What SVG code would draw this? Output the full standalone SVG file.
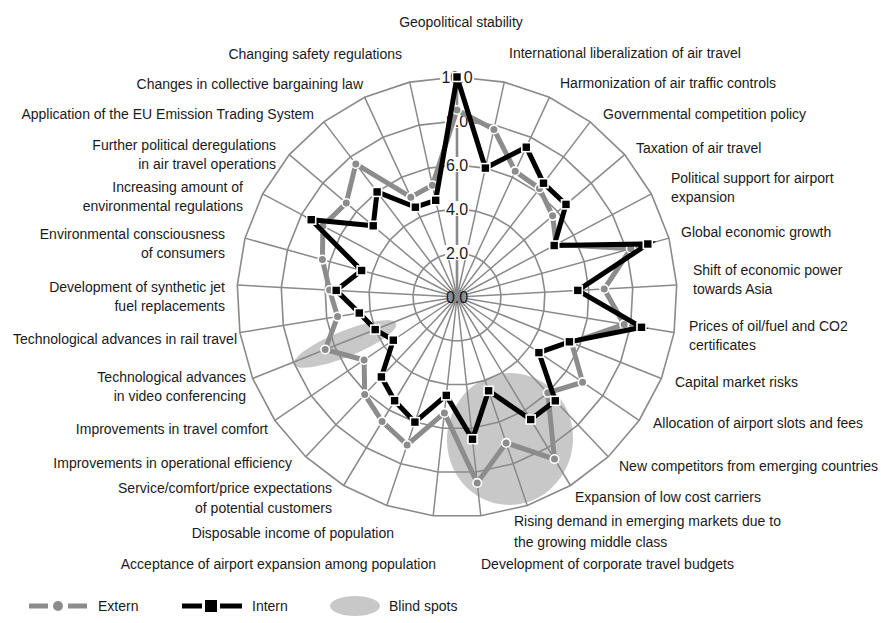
<svg xmlns="http://www.w3.org/2000/svg" width="881" height="623" viewBox="0 0 881 623">
  <style>
    .lbl { font-family: "Liberation Sans", Arial, sans-serif; font-size: 14px; fill: #1a1a1a; }
    .end { text-anchor: end; }
    .mid { text-anchor: middle; }
    .tick { font-family: "Liberation Sans", Arial, sans-serif; font-size: 16px; fill: #1a1a1a; text-anchor: middle; }
    .ring { fill: none; stroke: #8a8a8a; stroke-width: 1.6; stroke-linejoin: miter; }
    .spoke { fill: none; stroke: #8a8a8a; stroke-width: 1.5; }
    .blind { fill: #c8c8c8; }
    .ext { fill: none; stroke: #8c8c8c; stroke-width: 5; stroke-linejoin: miter; }
    .int { fill: none; stroke: #000; stroke-width: 5; stroke-linejoin: miter; }
    .extm { fill: #8c8c8c; stroke: #fff; stroke-width: 1.6; }
    .intm { fill: #000; stroke: #fff; stroke-width: 1.6; }
    .tickbg { fill: #fff; }
  </style>
  <defs>
    <circle id="cm" r="4.3" class="extm"/>
    <rect id="sm" x="-4.5" y="-4.5" width="9" height="9" class="intm"/>
  </defs>

  <!-- blind spot areas sit under the grid -->
  <g id="blind-spots">
    <ellipse class="blind" cx="345" cy="344" rx="55" ry="13" transform="rotate(-22 345 344)"/>
    <ellipse class="blind" cx="510" cy="439" rx="63" ry="66" transform="rotate(8 510 439)"/>
  </g>

  <!-- radar grid: 29 spokes, rings at 2, 4, 6, 8, 10 -->
  <g id="grid" transform="translate(457 297)">
    <path class="spoke" d="M0 0L47.29 -214.86M0 0L92.37 -199.67M0 0L133.14 -175.14M0 0L167.68 -142.43M0 0L194.37 -103.05M0 0L211.98 -58.85M0 0L219.68 -11.91M0 0L217.10 35.59M0 0L204.38 81.43M0 0L182.10 123.46M0 0L151.29 159.72M0 0L113.42 188.51M0 0L70.25 208.48M0 0L23.79 218.71M0 0L-23.79 218.71M0 0L-70.25 208.48M0 0L-113.42 188.51M0 0L-151.29 159.72M0 0L-182.10 123.46M0 0L-204.38 81.43M0 0L-217.10 35.59M0 0L-219.68 -11.91M0 0L-211.98 -58.85M0 0L-194.37 -103.05M0 0L-167.68 -142.43M0 0L-133.14 -175.14M0 0L-92.37 -199.67M0 0L-47.29 -214.86"/>
    <polygon class="ring" points="0,-220 47.29,-214.86 92.37,-199.67 133.14,-175.14 167.68,-142.43 194.37,-103.05 211.98,-58.85 219.68,-11.91 217.10,35.59 204.38,81.43 182.10,123.46 151.29,159.72 113.42,188.51 70.25,208.48 23.79,218.71 -23.79,218.71 -70.25,208.48 -113.42,188.51 -151.29,159.72 -182.10,123.46 -204.38,81.43 -217.10,35.59 -219.68,-11.91 -211.98,-58.85 -194.37,-103.05 -167.68,-142.43 -133.14,-175.14 -92.37,-199.67 -47.29,-214.86"/>
    <polygon class="ring" points="0,-176 37.8,-171.9 73.9,-159.7 106.5,-140.1 134.1,-113.9 155.5,-82.4 169.6,-47.1 175.7,-9.5 173.7,28.5 163.5,65.1 145.7,98.8 121.0,127.8 90.7,150.8 56.2,166.8 19.0,175.0 -19.0,175.0 -56.2,166.8 -90.7,150.8 -121.0,127.8 -145.7,98.8 -163.5,65.1 -173.7,28.5 -175.7,-9.5 -169.6,-47.1 -155.5,-82.4 -134.1,-113.9 -106.5,-140.1 -73.9,-159.7 -37.8,-171.9"/>
    <polygon class="ring" points="0,-132 28.4,-128.9 55.4,-119.8 79.9,-105.1 100.6,-85.5 116.6,-61.8 127.2,-35.3 131.8,-7.1 130.3,21.4 122.6,48.9 109.3,74.1 90.8,95.8 68.1,113.1 42.2,125.1 14.3,131.2 -14.3,131.2 -42.2,125.1 -68.1,113.1 -90.8,95.8 -109.3,74.1 -122.6,48.9 -130.3,21.4 -131.8,-7.1 -127.2,-35.3 -116.6,-61.8 -100.6,-85.5 -79.9,-105.1 -55.4,-119.8 -28.4,-128.9"/>
    <polygon class="ring" points="0,-88 18.9,-85.9 36.9,-79.9 53.3,-70.1 67.1,-57.0 77.7,-41.2 84.8,-23.5 87.9,-4.8 86.8,14.2 81.8,32.6 72.8,49.4 60.5,63.9 45.4,75.4 28.1,83.4 9.5,87.5 -9.5,87.5 -28.1,83.4 -45.4,75.4 -60.5,63.9 -72.8,49.4 -81.8,32.6 -86.8,14.2 -87.9,-4.8 -84.8,-23.5 -77.7,-41.2 -67.1,-57.0 -53.3,-70.1 -36.9,-79.9 -18.9,-85.9"/>
    <polygon class="ring" points="0,-44 9.5,-43.0 18.5,-39.9 26.6,-35.0 33.5,-28.5 38.9,-20.6 42.4,-11.8 43.9,-2.4 43.4,7.1 40.9,16.3 36.4,24.7 30.3,31.9 22.7,37.7 14.1,41.7 4.8,43.7 -4.8,43.7 -14.1,41.7 -22.7,37.7 -30.3,31.9 -36.4,24.7 -40.9,16.3 -43.4,7.1 -43.9,-2.4 -42.4,-11.8 -38.9,-20.6 -33.5,-28.5 -26.6,-35.0 -18.5,-39.9 -9.5,-43.0"/>
    <!-- value axis -->
    <line x1="0" y1="0" x2="0" y2="-220" stroke="#8a8a8a" stroke-width="2.6"/>
  </g>

  <!-- value axis labels -->
  <g id="axis-values">
    <rect class="tickbg" x="445" y="245" width="24" height="15"/>
    <rect class="tickbg" x="445" y="201" width="24" height="15"/>
    <rect class="tickbg" x="445" y="157" width="24" height="15"/>
    <rect class="tickbg" x="445" y="113" width="24" height="15"/>
    <rect class="tickbg" x="440" y="69" width="34" height="15"/>
    <text class="tick" x="457" y="303">0.0</text>
    <text class="tick" x="457" y="259">2.0</text>
    <text class="tick" x="457" y="215">4.0</text>
    <text class="tick" x="457" y="171">6.0</text>
    <text class="tick" x="457" y="127">8.0</text>
    <text class="tick" x="457" y="83">10.0</text>
  </g>

  <!-- data series -->
  <g id="series" transform="translate(457 297)">
    <g id="extern">
      <polygon class="ext" points="0,-187 36.9,-167.6 58.2,-125.8 82.5,-108.6 95.6,-81.2 99.1,-52.6 173.8,-48.3 147.2,-8.0 167.2,27.4 114.5,45.6 125.6,85.2 90.8,95.8 97.5,162.1 49.2,145.9 20.2,185.9 -12.6,115.9 -49.9,148.0 -74.9,124.4 -92.3,97.4 -92.9,63.0 -131.8,52.5 -119.4,19.6 -127.4,-6.9 -134.6,-37.4 -134.1,-71.1 -110.7,-94.0 -101.2,-133.1 -46.2,-99.8 -24.6,-111.7"/>
      <use href="#cm" x="0" y="-187"/><use href="#cm" x="36.9" y="-167.6"/><use href="#cm" x="58.2" y="-125.8"/><use href="#cm" x="82.5" y="-108.6"/><use href="#cm" x="95.6" y="-81.2"/><use href="#cm" x="99.1" y="-52.6"/><use href="#cm" x="173.8" y="-48.3"/><use href="#cm" x="147.2" y="-8.0"/><use href="#cm" x="167.2" y="27.4"/><use href="#cm" x="114.5" y="45.6"/><use href="#cm" x="125.6" y="85.2"/><use href="#cm" x="90.8" y="95.8"/><use href="#cm" x="97.5" y="162.1"/><use href="#cm" x="49.2" y="145.9"/><use href="#cm" x="20.2" y="185.9"/><use href="#cm" x="-12.6" y="115.9"/><use href="#cm" x="-49.9" y="148.0"/><use href="#cm" x="-74.9" y="124.4"/><use href="#cm" x="-92.3" y="97.4"/><use href="#cm" x="-92.9" y="63.0"/><use href="#cm" x="-131.8" y="52.5"/><use href="#cm" x="-119.4" y="19.6"/><use href="#cm" x="-127.4" y="-6.9"/><use href="#cm" x="-134.6" y="-37.4"/><use href="#cm" x="-134.1" y="-71.1"/><use href="#cm" x="-110.7" y="-94.0"/><use href="#cm" x="-101.2" y="-133.1"/><use href="#cm" x="-46.2" y="-99.8"/><use href="#cm" x="-24.6" y="-111.7"/>
    </g>
    <g id="intern">
      <polygon class="int" points="0,-220 28.4,-128.9 69.3,-149.8 86.5,-113.8 109.0,-92.6 97.2,-51.5 190.8,-53.0 120.8,-6.6 184.5,30.3 112.4,44.8 81.9,55.6 98.3,103.8 73.7,122.5 31.6,93.8 15.5,142.2 -10.7,98.4 -42.1,125.1 -62.4,103.7 -75.6,79.9 -63.7,43.2 -81.8,32.6 -97.7,16.0 -120.8,-6.6 -95.4,-26.5 -145.8,-77.3 -83.8,-71.2 -79.9,-105.1 -41.6,-89.8 -21.3,-96.7"/>
      <use href="#sm" x="0" y="-220"/><use href="#sm" x="28.4" y="-128.9"/><use href="#sm" x="69.3" y="-149.8"/><use href="#sm" x="86.5" y="-113.8"/><use href="#sm" x="109.0" y="-92.6"/><use href="#sm" x="97.2" y="-51.5"/><use href="#sm" x="190.8" y="-53.0"/><use href="#sm" x="120.8" y="-6.6"/><use href="#sm" x="184.5" y="30.3"/><use href="#sm" x="112.4" y="44.8"/><use href="#sm" x="81.9" y="55.6"/><use href="#sm" x="98.3" y="103.8"/><use href="#sm" x="73.7" y="122.5"/><use href="#sm" x="31.6" y="93.8"/><use href="#sm" x="15.5" y="142.2"/><use href="#sm" x="-10.7" y="98.4"/><use href="#sm" x="-42.1" y="125.1"/><use href="#sm" x="-62.4" y="103.7"/><use href="#sm" x="-75.6" y="79.9"/><use href="#sm" x="-63.7" y="43.2"/><use href="#sm" x="-81.8" y="32.6"/><use href="#sm" x="-97.7" y="16.0"/><use href="#sm" x="-120.8" y="-6.6"/><use href="#sm" x="-95.4" y="-26.5"/><use href="#sm" x="-145.8" y="-77.3"/><use href="#sm" x="-83.8" y="-71.2"/><use href="#sm" x="-79.9" y="-105.1"/><use href="#sm" x="-41.6" y="-89.8"/><use href="#sm" x="-21.3" y="-96.7"/>
    </g>
  </g>

  <!-- category labels, clockwise from the top -->
  <g id="labels" class="lbl">
    <text class="mid" x="461" y="27">Geopolitical stability</text>
    <text x="509" y="58">International liberalization of air travel</text>
    <text x="560" y="88">Harmonization of air traffic controls</text>
    <text x="603" y="119">Governmental competition policy</text>
    <text x="636" y="153">Taxation of air travel</text>
    <text x="671" y="183">Political support for airport</text>
    <text x="671" y="202">expansion</text>
    <text x="681" y="237">Global economic growth</text>
    <text x="693" y="275">Shift of economic power</text>
    <text x="693" y="294">towards Asia</text>
    <text x="689" y="331">Prices of oil/fuel and CO2</text>
    <text x="689" y="350">certificates</text>
    <text x="675" y="387">Capital market risks</text>
    <text x="653" y="428">Allocation of airport slots and fees</text>
    <text x="619" y="471">New competitors from emerging countries</text>
    <text x="575" y="502">Expansion of low cost carriers</text>
    <text x="514" y="526">Rising demand in emerging markets due to</text>
    <text x="514" y="547">the growing middle class</text>
    <text x="481" y="569">Development of corporate travel budgets</text>
    <text class="end" x="436" y="569">Acceptance of airport expansion among population</text>
    <text class="end" x="394" y="538">Disposable income of population</text>
    <text class="end" x="332" y="493">Service/comfort/price expectations</text>
    <text class="end" x="332" y="513">of potential customers</text>
    <text class="end" x="292" y="468">Improvements in operational efficiency</text>
    <text class="end" x="268" y="434">Improvements in travel comfort</text>
    <text class="end" x="246" y="382">Technological advances</text>
    <text class="end" x="246" y="401">in video conferencing</text>
    <text class="end" x="237" y="344">Technological advances in rail travel</text>
    <text class="end" x="225" y="292">Development of synthetic jet</text>
    <text class="end" x="225" y="311">fuel replacements</text>
    <text class="end" x="225" y="239">Environmental consciousness</text>
    <text class="end" x="225" y="258">of consumers</text>
    <text class="end" x="243" y="192">Increasing amount of</text>
    <text class="end" x="243" y="211">environmental regulations</text>
    <text class="end" x="276" y="150">Further political deregulations</text>
    <text class="end" x="276" y="169">in air travel operations</text>
    <text class="end" x="314" y="119">Application of the EU Emission Trading System</text>
    <text class="end" x="363" y="89">Changes in collective bargaining law</text>
    <text class="end" x="402" y="59">Changing safety regulations</text>
  </g>

  <!-- legend -->
  <g id="legend">
    <g id="legend-extern">
      <line x1="29" y1="606" x2="48" y2="606" stroke="#8c8c8c" stroke-width="5"/>
      <line x1="68" y1="606" x2="87" y2="606" stroke="#8c8c8c" stroke-width="5"/>
      <circle cx="58" cy="606" r="5" fill="#8c8c8c"/>
      <text class="lbl" x="98" y="611">Extern</text>
    </g>
    <g id="legend-intern">
      <line x1="182" y1="606" x2="202" y2="606" stroke="#000" stroke-width="5"/>
      <line x1="220" y1="606" x2="242" y2="606" stroke="#000" stroke-width="5"/>
      <rect x="205" y="600" width="12" height="12" fill="#000"/>
      <text class="lbl" x="252" y="611">Intern</text>
    </g>
    <g id="legend-blind">
      <ellipse class="blind" cx="355" cy="606" rx="25" ry="10"/>
      <text class="lbl" x="389" y="611">Blind spots</text>
    </g>
  </g>
</svg>
